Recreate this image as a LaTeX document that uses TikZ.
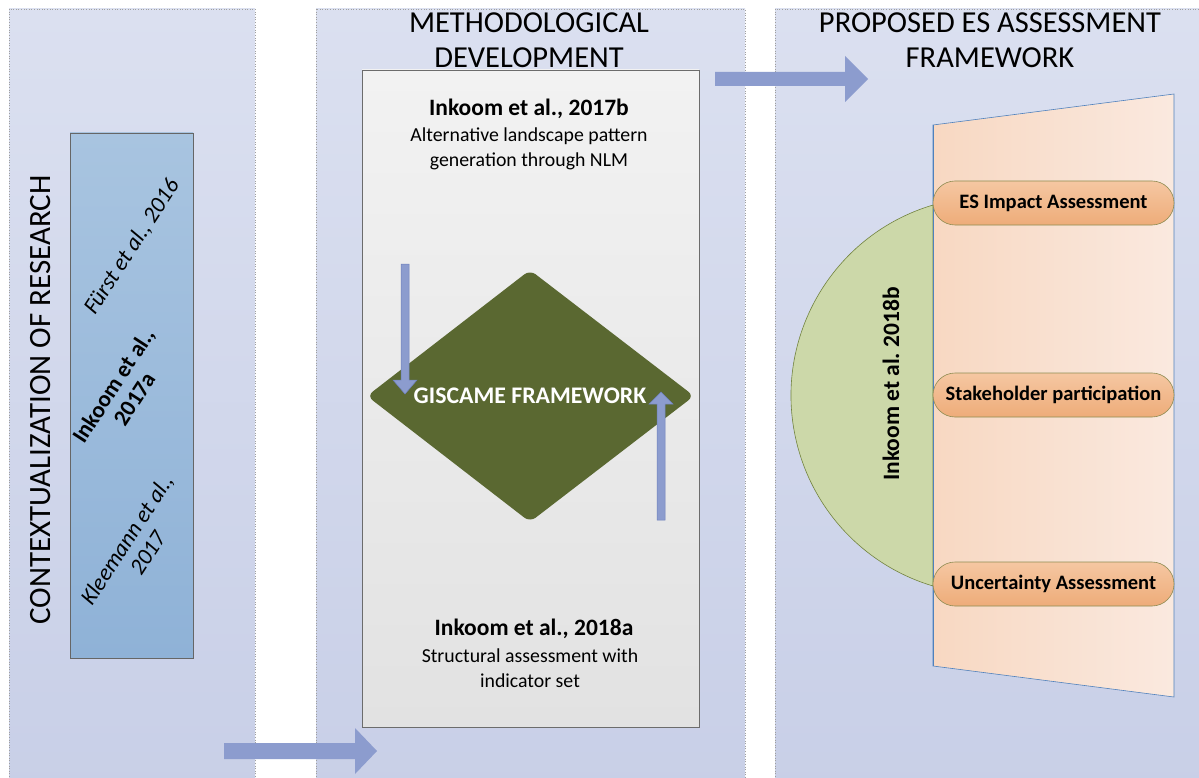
\documentclass[tikz,border=0pt]{standalone}
\usepackage{fontspec}
\setmainfont{Carlito}
\usetikzlibrary{shapes.geometric}
\definecolor{panelTop}{HTML}{DBE0F0}
\definecolor{panelBot}{HTML}{C8CFE7}
\definecolor{refTop}{HTML}{A8C4E0}
\definecolor{refBot}{HTML}{8FB2D7}
\definecolor{boxTop}{HTML}{F2F2F2}
\definecolor{boxBot}{HTML}{E2E2E2}
\definecolor{olive}{HTML}{5A6831}
\definecolor{flow}{HTML}{8C9CCE}
\definecolor{flowEdge}{HTML}{6E80BC}
\definecolor{peachL}{HTML}{F8D8C2}
\definecolor{peachR}{HTML}{FAE9DF}
\definecolor{sage}{HTML}{CCD8A9}
\definecolor{sageEdge}{HTML}{72833F}
\definecolor{pillTop}{HTML}{F5C7A2}
\definecolor{pillBot}{HTML}{EEAC79}
\definecolor{pillEdge}{HTML}{8E8C52}
\definecolor{frameBlue}{HTML}{4F81BD}
\frenchspacing
\begin{document}
\begin{tikzpicture}[x=1pt,y=-1pt,
  panel/.style={draw=gray!75, dotted, line width=0.6pt, top color=panelTop, bottom color=panelBot},
  paneltitle/.style={font=\fontsize{30.5}{35}\selectfont, align=center, inner sep=0pt},
  reftext/.style={align=center, rotate=57, inner sep=0pt},
  heading/.style={font=\fontsize{23.5}{27}\selectfont\bfseries, inner sep=0pt},
  body/.style={font=\fontsize{19.8}{25}\selectfont, align=center, inner sep=0pt},
  flowarrow/.style={fill=flow, draw=none},
  smallarrow/.style={fill=flow, draw=flowEdge, line width=0.5pt},
  pill/.style={rounded corners=22pt, minimum width=241pt, minimum height=44pt, inner sep=0pt,
    top color=pillTop, bottom color=pillBot, draw=pillEdge, line width=0.6pt,
    font=\fontsize{20.5}{23}\selectfont\bfseries}]
\useasboundingbox (0,0) rectangle (1199,778);
\clip (0,0) rectangle (1199,778);
\fill[white] (0,0) rectangle (1199,778);

% three background panels
\path[panel] (9,9) rectangle (255,795);
\path[panel] (316,9) rectangle (745,795);
\path[panel] (775,9) rectangle (1220,795);

% ---- context of research ----
\node[paneltitle, font=\fontsize{31}{35}\selectfont, rotate=90] (ctxtitle) at (41,400) {CONTEXTUALIZATION OF RESEARCH};
\draw[draw=gray!80!black, line width=0.7pt, top color=refTop, bottom color=refBot]
  (70,133) rectangle (193,658);
\node[reftext, font=\fontsize{23}{25}\selectfont\itshape] (fuerst) at (132,247) {Fürst et al., 2016};
\node[reftext, font=\fontsize{23}{25}\selectfont\bfseries] (ink17a) at (124,392) {Inkoom et al.,\\2017a};
\node[reftext, font=\fontsize{23}{25}\selectfont\itshape] (klee) at (137,546) {Kleemann et al.,\\2017};

% arrow into the methodological panel
\path[flowarrow] (224,743) -- (355,743) -- (355,728) -- (377,751) -- (355,774) -- (355,759) -- (224,759) -- cycle;

% ---- methodological development ----
\node[paneltitle] (methtitle) at (529,40) {METHODOLOGICAL\\DEVELOPMENT};
\draw[draw=gray!85!black, line width=0.7pt, top color=boxTop, bottom color=boxBot]
  (362,70) rectangle (699,727);
\node[heading] (ink17b) at (529,109) {Inkoom et al., 2017b};
\node[body, anchor=north] (nlm) at (529,128) {Alternative landscape pattern\\generation through NLM};

\fill[olive, rounded corners=7pt] (367,396) -- (530,270) -- (694,396) -- (530,522) -- cycle;
\node[font=\fontsize{23.8}{27}\selectfont\bfseries, text=white, inner sep=0pt] (giscame) at (530,396) {GISCAME FRAMEWORK};

\path[smallarrow] (401,264) -- (409,264) -- (409,380) -- (417,380) -- (405,394) -- (393,380) -- (401,380) -- cycle;
\path[smallarrow] (657,520) -- (665,520) -- (665,404) -- (673,404) -- (661,392) -- (649,404) -- (657,404) -- cycle;

\node[heading] (ink18a) at (534,629) {Inkoom et al., 2018a};
\node[body, anchor=north] (indic) at (530,649) {Structural assessment with\\indicator set};

% arrow into the proposed framework
\path[flowarrow] (715,72) -- (845,72) -- (845,56) -- (868,79) -- (845,102) -- (845,86) -- (715,86) -- cycle;

% ---- proposed ES assessment framework ----
\node[paneltitle] (proptitle) at (990,40) {PROPOSED ES ASSESSMENT\\FRAMEWORK};
\draw[frameBlue, line width=0.6pt, left color=peachL, right color=peachR]
  (933,125) -- (1174,94) -- (1174,697) -- (933,666) -- cycle;
% circular segment cut by the left side of the frame
\draw[sageEdge, line width=0.6pt, fill=sage]
  (933,205) arc[start angle=253.4, end angle=106.6, radius=198.8] -- cycle;
\draw[frameBlue, line width=0.6pt] (933,125) -- (933,666);
\node[font=\fontsize{23.5}{27}\selectfont\bfseries, rotate=90, inner sep=0pt] (ink18b) at (891,384) {Inkoom et al. 2018b};

\node[pill] (impact) at (1053.5,203) {ES Impact Assessment};
\node[pill] (stake) at (1053.5,395) {Stakeholder participation};
\node[pill] (uncert) at (1053.5,584) {Uncertainty Assessment};
\end{tikzpicture}
\end{document}
